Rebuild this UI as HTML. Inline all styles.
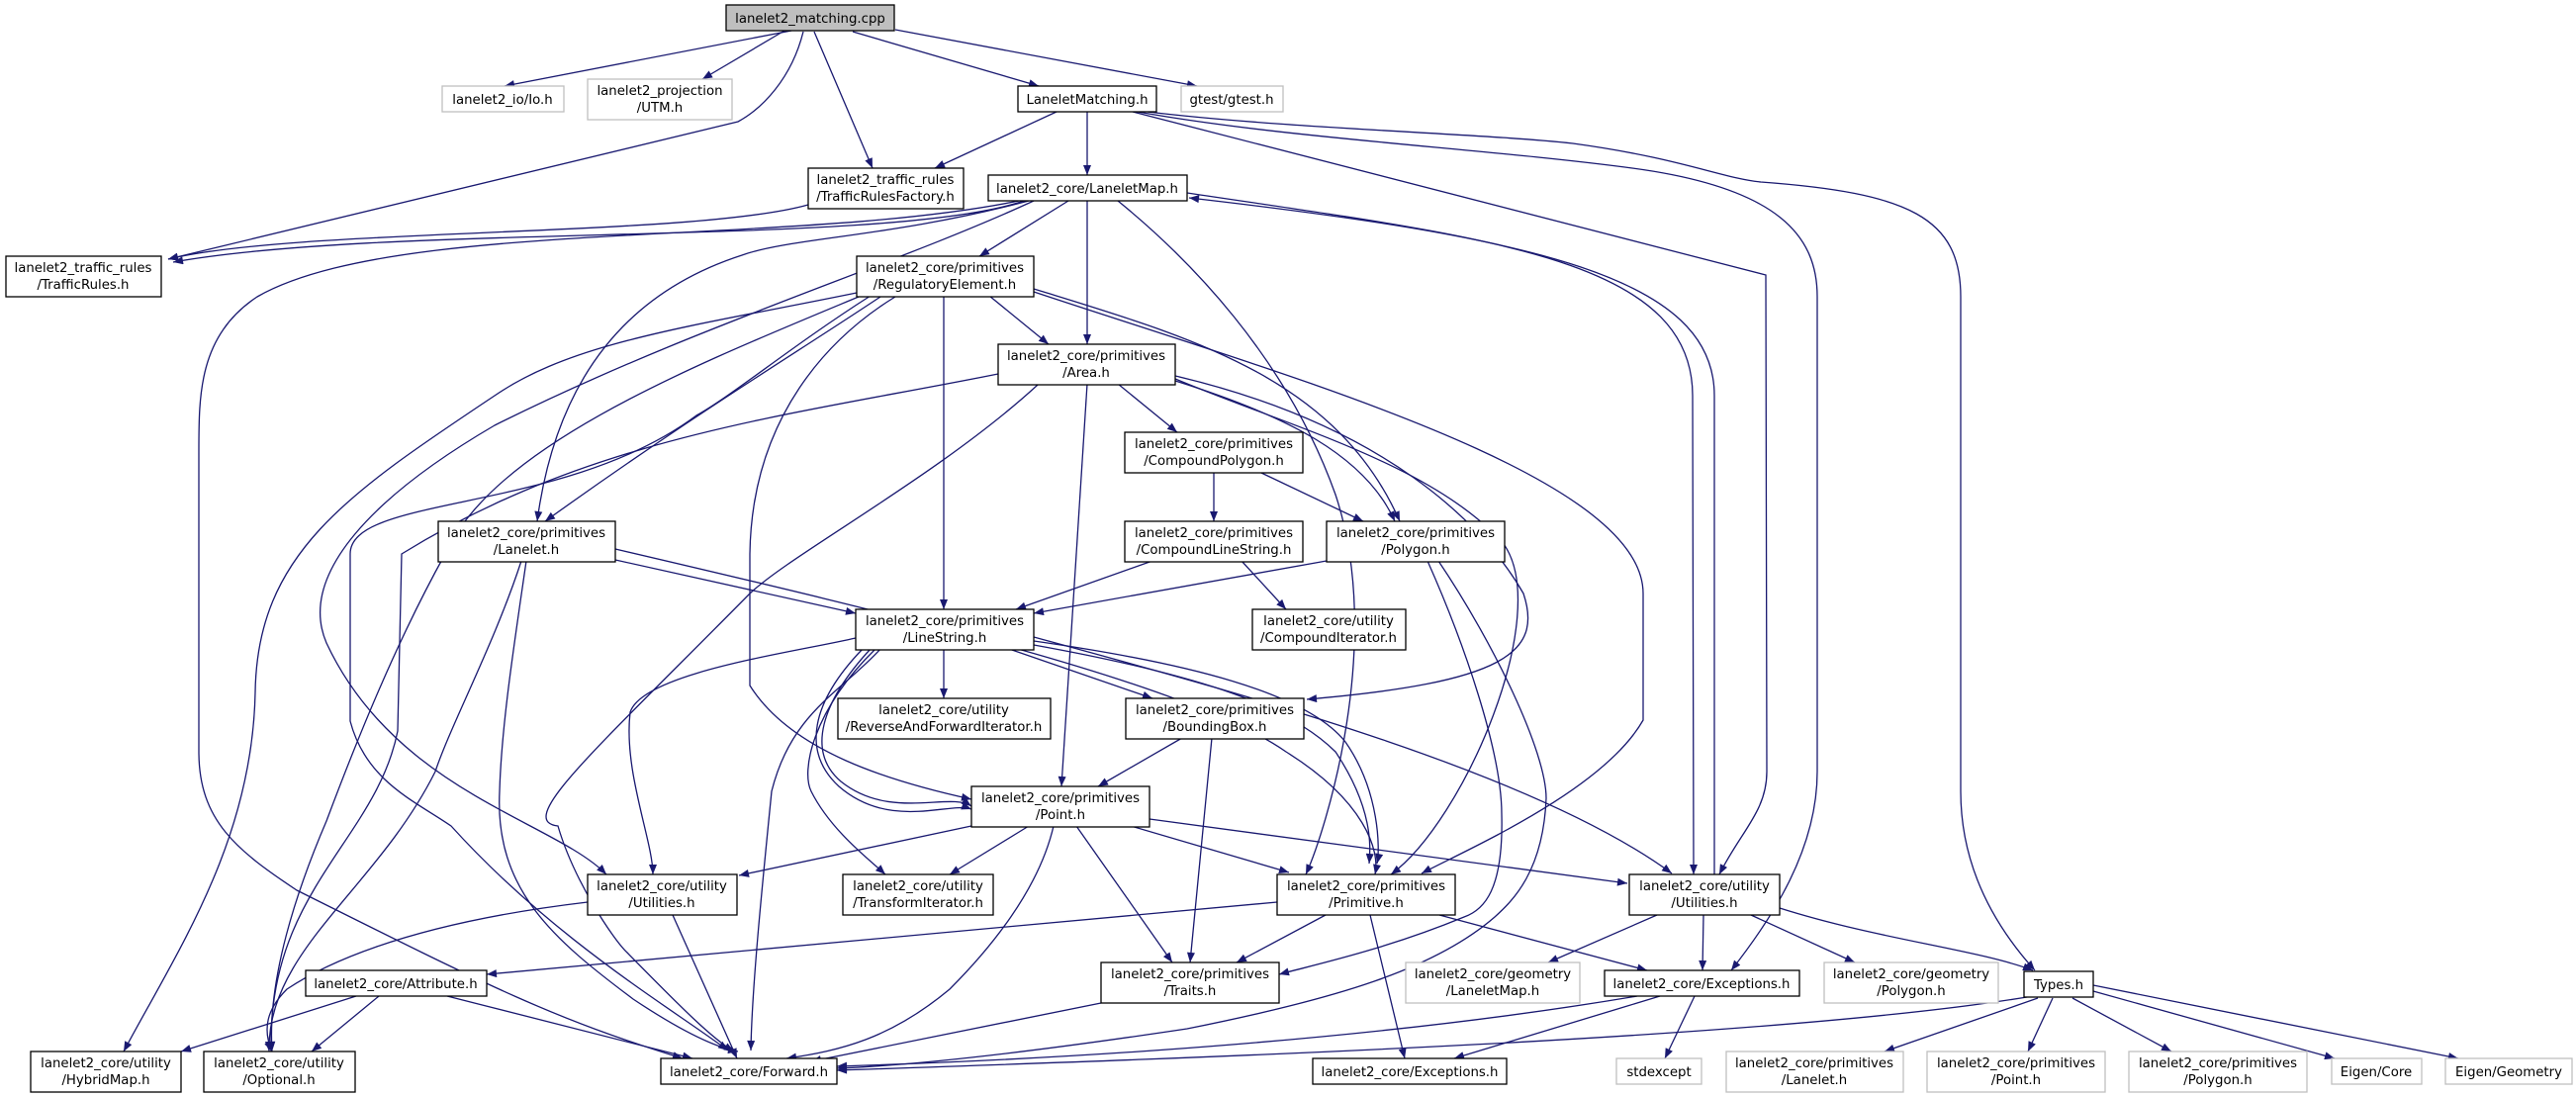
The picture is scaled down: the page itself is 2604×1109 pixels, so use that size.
<!DOCTYPE html>
<html><head><meta charset="utf-8"><style>
html,body{margin:0;padding:0;background:#fff;width:2604px;height:1109px;overflow:hidden}
svg{display:block}
text{font-family:"DejaVu Sans","Liberation Sans",sans-serif;font-size:13.3px;fill:#000;text-anchor:middle}
.e{fill:none;stroke:#191970;stroke-width:1.3}
.n rect{fill:#fff;stroke:#000;stroke-width:1.3}
.g rect{fill:#fff;stroke:#bfbfbf;stroke-width:1.3}
</style></head><body>
<svg width="2604" height="1109" viewBox="0 0 2604 1109" xmlns="http://www.w3.org/2000/svg">
<defs><marker id="a" viewBox="0 0 10 8" refX="10" refY="4" markerWidth="11" markerHeight="8" markerUnits="userSpaceOnUse" orient="auto"><path d="M0,0L10,4L0,8z" fill="#191970"/></marker></defs>
<g marker-end="url(#a)">
<path class="e" d="M800,31L510,87"/>
<path class="e" d="M793,31L710,80"/>
<path class="e" d="M812,32C800,80 770,110 746,123L170,262"/>
<path class="e" d="M823,32L882,170"/>
<path class="e" d="M862,32L1050,87"/>
<path class="e" d="M905,30L1210,87"/>
<path class="e" d="M1068,113L945,170"/>
<path class="e" d="M1099,113L1099,177"/>
<path class="e" d="M1145,113L1785,278L1786,780C1786,820 1760,840 1738,884"/>
<path class="e" d="M1150,113C1300,140 1500,150 1650,170C1800,190 1837,240 1837,300L1837,780C1837,860 1790,930 1750,981"/>
<path class="e" d="M1160,113C1300,130 1500,135 1590,145C1700,160 1740,180 1780,184C1930,195 1982,220 1982,300L1982,800C1982,880 2020,940 2057,981"/>
<path class="e" d="M817,207C700,240 300,230 170,262"/>
<path class="e" d="M1035,203C900,250 400,225 175,265"/>
<path class="e" d="M1030,203C800,250 400,220 260,300C200,340 201,400 201,460L201,760C201,830 240,860 300,900C500,1000 560,1030 690,1070"/>
<path class="e" d="M1040,203C900,240 800,240 750,258C620,300 560,400 543,527"/>
<path class="e" d="M1045,203C900,270 700,330 500,430C380,500 300,580 330,650C400,800 560,830 613,884"/>
<path class="e" d="M1080,203L990,259"/>
<path class="e" d="M1099,203L1099,348"/>
<path class="e" d="M1130,203C1200,260 1300,360 1350,500C1400,650 1340,840 1320,884"/>
<path class="e" d="M1200,195C1500,240 1711,260 1711,400L1712,884"/>
<path class="e" d="M1733,884L1733,400C1733,280 1550,240 1202,200"/>
<path class="e" d="M1000,299L1060,348"/>
<path class="e" d="M954,299L954,616"/>
<path class="e" d="M1045,292C1200,340 1350,380 1415,527"/>
<path class="e" d="M1045,295C1300,380 1661,480 1661,600L1661,728C1620,800 1480,860 1437,883"/>
<path class="e" d="M1045,288C1300,360 1540,470 1560,590C1570,700 1560,780 1530,830C1500,880 1460,920 1406,884" style="display:none"/>
<path class="e" d="M866,296C700,330 580,345 500,400C350,500 260,560 258,700C255,850 180,960 125,1063"/>
<path class="e" d="M868,300C700,370 500,450 450,560C400,650 360,750 330,830C300,900 270,990 275,1063"/>
<path class="e" d="M890,300C800,360 700,420 551,527"/>
<path class="e" d="M905,300C840,340 760,420 758,560L758,693C800,760 900,790 982,808"/>
<path class="e" d="M878,300C760,360 700,430 700,500C700,650 700,700 700,730C720,800 760,880 800,960C830,1020 840,1040 840,1070" style="display:none"/>
<path class="e" d="M895,300C800,380 740,440 740,460C700,520 670,600 680,640C690,700 740,900 800,1000C820,1040 830,1060 825,1070" style="display:none"/>
<path class="e" d="M880,299C800,350 740,400 704,420C570,520 354,500 354,560L354,729C370,790 420,810 456,835C560,950 680,1020 736,1062"/>
<path class="e" d="M1009,378C800,420 600,440 406,560L402,739C380,850 270,900 274,1063"/>
<path class="e" d="M1049,389C950,480 800,560 758,600C600,760 520,830 564,835C580,890 620,950 634,963C690,1020 720,1050 742,1063"/>
<path class="e" d="M1099,388L1073,795"/>
<path class="e" d="M1130,388L1190,437"/>
<path class="e" d="M1188,385C1300,420 1380,460 1410,527"/>
<path class="e" d="M1188,383C1300,430 1450,470 1520,550C1570,620 1480,830 1406,884"/>
<path class="e" d="M1188,380C1400,430 1500,530 1540,600C1560,660 1520,690 1321,707"/>
<path class="e" d="M1227,478L1227,527"/>
<path class="e" d="M1275,478L1378,527"/>
<path class="e" d="M1165,567L1027,616"/>
<path class="e" d="M1255,567L1300,616"/>
<path class="e" d="M1341,567L1045,620"/>
<path class="e" d="M1443,567C1480,650 1518,760 1518,823C1520,900 1500,920 1480,927C1400,960 1330,975 1293,985"/>
<path class="e" d="M1454,567C1510,650 1563,760 1563,807C1560,880 1530,910 1511,927C1450,980 1350,1010 1200,1040C1000,1070 900,1078 846,1080"/>
<path class="e" d="M622,555C900,620 1200,690 1300,760C1380,810 1395,860 1390,884"/>
<path class="e" d="M622,566L865,620"/>
<path class="e" d="M527,567C500,650 456,732 440,780C380,900 270,960 272,1063"/>
<path class="e" d="M532,567C520,650 507,732 505,800C500,900 560,950 640,1010C700,1050 730,1060 746,1063"/>
<path class="e" d="M865,645C800,660 650,680 637,720C630,780 660,850 660,884"/>
<path class="e" d="M890,656C830,720 790,780 790,880L759,1062" style="display:none"/>
<path class="e" d="M890,656C850,700 800,720 780,800C770,900 760,1000 759,1062"/>
<path class="e" d="M880,656C830,710 815,760 850,790C900,830 960,800 982,815"/>
<path class="e" d="M872,656C820,710 810,760 848,795C900,840 960,810 982,818"/>
<path class="e" d="M954,656L954,706"/>
<path class="e" d="M1020,656L1165,706"/>
<path class="e" d="M885,656C820,720 810,780 820,800C840,840 880,870 895,884"/>
<path class="e" d="M1045,652C1200,680 1300,710 1350,760C1390,820 1385,860 1384,873"/>
<path class="e" d="M1045,648C1200,670 1320,700 1360,750C1395,800 1395,860 1392,873"/>
<path class="e" d="M1045,644C1250,700 1550,780 1690,883"/>
<path class="e" d="M1195,746L1110,795"/>
<path class="e" d="M1225,746L1203,973"/>
<path class="e" d="M982,835L747,885"/>
<path class="e" d="M1040,835L960,884"/>
<path class="e" d="M1065,835C1050,900 1000,960 960,1000C900,1050 850,1062 795,1070"/>
<path class="e" d="M1088,835L1185,973"/>
<path class="e" d="M1143,835L1303,882"/>
<path class="e" d="M1162,828L1645,893"/>
<path class="e" d="M680,925L745,1070"/>
<path class="e" d="M594,912C400,935 320,980 290,1000C270,1020 265,1040 275,1063"/>
<path class="e" d="M1340,925L1250,973"/>
<path class="e" d="M1385,925L1420,1070"/>
<path class="e" d="M1455,925L1665,981"/>
<path class="e" d="M1291,912L492,985"/>
<path class="e" d="M1675,925L1565,973"/>
<path class="e" d="M1722,925L1721,981"/>
<path class="e" d="M1770,925L1875,973"/>
<path class="e" d="M1799,918C1900,950 2000,960 2055,981"/>
<path class="e" d="M360,1007L183,1063"/>
<path class="e" d="M383,1007L315,1063"/>
<path class="e" d="M452,1007L700,1070"/>
<path class="e" d="M1113,1014L820,1073"/>
<path class="e" d="M1655,1007C1400,1050 1100,1070 846,1078"/>
<path class="e" d="M1678,1007L1470,1070"/>
<path class="e" d="M1713,1007L1683,1070"/>
<path class="e" d="M2055,1007C1800,1050 1200,1070 846,1082"/>
<path class="e" d="M2060,1009L1905,1063"/>
<path class="e" d="M2075,1009L2050,1063"/>
<path class="e" d="M2095,1009L2195,1063"/>
<path class="e" d="M2116,1002L2360,1070"/>
<path class="e" d="M2116,996L2485,1070"/>
</g>
<g class="n" ><rect x="734" y="5" width="170" height="26" style="fill:#bfbfbf"/><text x="819" y="23">lanelet2_matching.cpp</text></g>
<g class="g"><rect x="447" y="87" width="123" height="26"/><text x="508" y="105">lanelet2_io/Io.h</text></g>
<g class="g"><rect x="594" y="80" width="146" height="41"/><text x="667" y="96">lanelet2_projection</text><text x="667" y="113">/UTM.h</text></g>
<g class="n"><rect x="1029" y="87" width="140" height="26"/><text x="1099" y="105">LaneletMatching.h</text></g>
<g class="g"><rect x="1194" y="87" width="103" height="26"/><text x="1245" y="105">gtest/gtest.h</text></g>
<g class="n"><rect x="817" y="170" width="157" height="41"/><text x="895" y="186">lanelet2_traffic_rules</text><text x="895" y="203">/TrafficRulesFactory.h</text></g>
<g class="n"><rect x="999" y="177" width="201" height="26"/><text x="1099" y="195">lanelet2_core/LaneletMap.h</text></g>
<g class="n"><rect x="6" y="259" width="157" height="41"/><text x="84" y="275">lanelet2_traffic_rules</text><text x="84" y="292">/TrafficRules.h</text></g>
<g class="n"><rect x="866" y="259" width="179" height="41"/><text x="955" y="275">lanelet2_core/primitives</text><text x="955" y="292">/RegulatoryElement.h</text></g>
<g class="n"><rect x="1009" y="348" width="179" height="41"/><text x="1098" y="364">lanelet2_core/primitives</text><text x="1098" y="381">/Area.h</text></g>
<g class="n"><rect x="1137" y="437" width="180" height="41"/><text x="1227" y="453">lanelet2_core/primitives</text><text x="1227" y="470">/CompoundPolygon.h</text></g>
<g class="n"><rect x="443" y="527" width="179" height="41"/><text x="532" y="543">lanelet2_core/primitives</text><text x="532" y="560">/Lanelet.h</text></g>
<g class="n"><rect x="1137" y="527" width="180" height="41"/><text x="1227" y="543">lanelet2_core/primitives</text><text x="1227" y="560">/CompoundLineString.h</text></g>
<g class="n"><rect x="1341" y="527" width="180" height="41"/><text x="1431" y="543">lanelet2_core/primitives</text><text x="1431" y="560">/Polygon.h</text></g>
<g class="n"><rect x="865" y="616" width="180" height="41"/><text x="955" y="632">lanelet2_core/primitives</text><text x="955" y="649">/LineString.h</text></g>
<g class="n"><rect x="1266" y="616" width="155" height="41"/><text x="1343" y="632">lanelet2_core/utility</text><text x="1343" y="649">/CompoundIterator.h</text></g>
<g class="n"><rect x="847" y="706" width="215" height="41"/><text x="954" y="722">lanelet2_core/utility</text><text x="954" y="739">/ReverseAndForwardIterator.h</text></g>
<g class="n"><rect x="1138" y="706" width="180" height="41"/><text x="1228" y="722">lanelet2_core/primitives</text><text x="1228" y="739">/BoundingBox.h</text></g>
<g class="n"><rect x="982" y="795" width="180" height="41"/><text x="1072" y="811">lanelet2_core/primitives</text><text x="1072" y="828">/Point.h</text></g>
<g class="n"><rect x="594" y="884" width="151" height="41"/><text x="669" y="900">lanelet2_core/utility</text><text x="669" y="917">/Utilities.h</text></g>
<g class="n"><rect x="852" y="884" width="152" height="41"/><text x="928" y="900">lanelet2_core/utility</text><text x="928" y="917">/TransformIterator.h</text></g>
<g class="n"><rect x="1291" y="884" width="180" height="41"/><text x="1381" y="900">lanelet2_core/primitives</text><text x="1381" y="917">/Primitive.h</text></g>
<g class="n"><rect x="1647" y="884" width="152" height="41"/><text x="1723" y="900">lanelet2_core/utility</text><text x="1723" y="917">/Utilities.h</text></g>
<g class="g"><rect x="1421" y="973" width="176" height="41"/><text x="1509" y="989">lanelet2_core/geometry</text><text x="1509" y="1006">/LaneletMap.h</text></g>
<g class="n"><rect x="1622" y="981" width="197" height="26"/><text x="1720" y="999">lanelet2_core/Exceptions.h</text></g>
<g class="g"><rect x="1844" y="973" width="176" height="41"/><text x="1932" y="989">lanelet2_core/geometry</text><text x="1932" y="1006">/Polygon.h</text></g>
<g class="n"><rect x="2046" y="982" width="70" height="26"/><text x="2081" y="1000">Types.h</text></g>
<g class="n"><rect x="309" y="981" width="183" height="26"/><text x="400" y="999">lanelet2_core/Attribute.h</text></g>
<g class="n"><rect x="1113" y="973" width="180" height="41"/><text x="1203" y="989">lanelet2_core/primitives</text><text x="1203" y="1006">/Traits.h</text></g>
<g class="n"><rect x="31" y="1063" width="152" height="41"/><text x="107" y="1079">lanelet2_core/utility</text><text x="107" y="1096">/HybridMap.h</text></g>
<g class="n"><rect x="206" y="1063" width="153" height="41"/><text x="282" y="1079">lanelet2_core/utility</text><text x="282" y="1096">/Optional.h</text></g>
<g class="n"><rect x="668" y="1070" width="178" height="26"/><text x="757" y="1088">lanelet2_core/Forward.h</text></g>
<g class="n"><rect x="1327" y="1070" width="196" height="26"/><text x="1425" y="1088">lanelet2_core/Exceptions.h</text></g>
<g class="g"><rect x="1634" y="1070" width="86" height="26"/><text x="1677" y="1088">stdexcept</text></g>
<g class="g"><rect x="1745" y="1063" width="179" height="41"/><text x="1834" y="1079">lanelet2_core/primitives</text><text x="1834" y="1096">/Lanelet.h</text></g>
<g class="g"><rect x="1948" y="1063" width="180" height="41"/><text x="2038" y="1079">lanelet2_core/primitives</text><text x="2038" y="1096">/Point.h</text></g>
<g class="g"><rect x="2152" y="1063" width="180" height="41"/><text x="2242" y="1079">lanelet2_core/primitives</text><text x="2242" y="1096">/Polygon.h</text></g>
<g class="g"><rect x="2357" y="1070" width="91" height="26"/><text x="2402" y="1088">Eigen/Core</text></g>
<g class="g"><rect x="2472" y="1070" width="128" height="26"/><text x="2536" y="1088">Eigen/Geometry</text></g>
</svg>
</body></html>
